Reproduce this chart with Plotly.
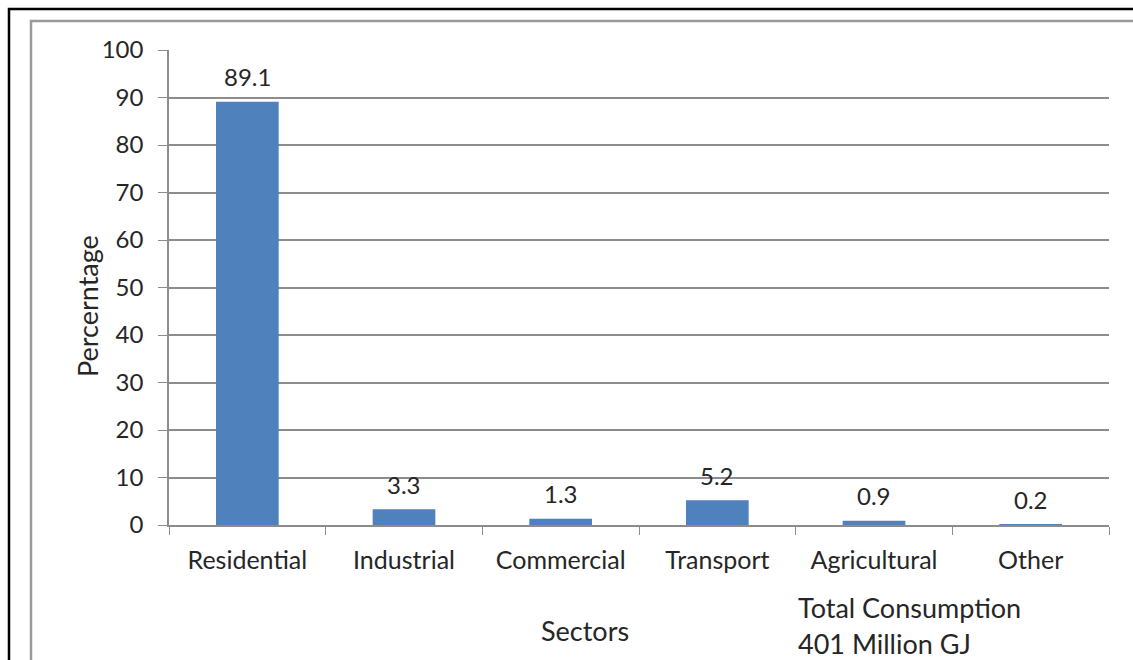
import plotly.graph_objects as go

# Share of total energy consumption by sector (%)
sectors = ["Residential", "Industrial", "Commercial", "Transport", "Agricultural", "Other"]
shares = [89.1, 3.3, 1.3, 5.2, 0.9, 0.2]
y_ticks = [0, 10, 20, 30, 40, 50, 60, 70, 80, 90, 100]

FONT = "Lato"
TEXT = "#262626"
GRID = "#8c8c8c"

W, H = 1133, 660
L, R, T, B = 169, 24, 50, 135
pw, ph = W - L - R, H - T - B


def px(x):
    return (x - L) / pw


def py(y):
    return (H - B - y) / ph


fig = go.Figure(
    go.Bar(
        x=sectors,
        y=shares,
        marker=dict(color="#4f81bd", line=dict(width=0)),
        width=0.4,
    )
)

# value labels floating above each bar
value_labels = [
    dict(x=s, y=v, xref="x", yref="y", text=f"{v:.1f}", showarrow=False,
         xanchor="center", yanchor="middle", yshift=25,
         font=dict(family=FONT, size=24, color=TEXT))
    for s, v in zip(sectors, shares)
]

fig.update_layout(
    width=W,
    height=H,
    margin=dict(l=L, r=R, t=T, b=B),
    paper_bgcolor="white",
    plot_bgcolor="white",
    showlegend=False,
    font=dict(family=FONT, color=TEXT),
    xaxis=dict(
        showline=True,
        linecolor=GRID,
        linewidth=1.5,
        ticks="outside",
        tickson="boundaries",
        ticklen=8,
        tickcolor=GRID,
        tickfont=dict(family=FONT, size=25, color=TEXT),
        ticklabelstandoff=12,
        showgrid=False,
    ),
    yaxis=dict(
        range=[0, 100],
        tickvals=y_ticks,
        showline=True,
        linecolor=GRID,
        linewidth=1.5,
        ticks="outside",
        ticklen=9,
        tickcolor=GRID,
        tickfont=dict(family=FONT, size=24, color=TEXT),
        ticklabelstandoff=10,
        showgrid=True,
        gridcolor=GRID,
        gridwidth=1.5,
        zeroline=False,
    ),
    shapes=[
        # outer black frame
        dict(type="rect", xref="paper", yref="paper",
             x0=px(9), x1=px(1160), y0=py(700), y1=py(9),
             line=dict(color="black", width=2.5), layer="below"),
        # inner gray frame
        dict(type="rect", xref="paper", yref="paper",
             x0=px(31), x1=px(1150), y0=py(700), y1=py(21),
             line=dict(color="#9a9a9a", width=2.5), layer="below"),
    ],
    annotations=value_labels + [
        dict(text="Percerntage", xref="paper", yref="paper",
             x=px(87), y=py(306), textangle=-90, showarrow=False,
             xanchor="center", yanchor="middle",
             font=dict(family=FONT, size=27, color=TEXT)),
        dict(text="Sectors", xref="paper", yref="paper",
             x=px(585), y=py(630), showarrow=False,
             xanchor="center", yanchor="middle",
             font=dict(family=FONT, size=27, color=TEXT)),
        dict(text="Total Consumption", xref="paper", yref="paper",
             x=px(796), y=py(607), showarrow=False,
             xanchor="left", yanchor="middle",
             font=dict(family=FONT, size=27, color=TEXT)),
        dict(text="401 Million GJ", xref="paper", yref="paper",
             x=px(796), y=py(643), showarrow=False,
             xanchor="left", yanchor="middle",
             font=dict(family=FONT, size=27, color=TEXT)),
    ],
)

fig.write_html("out.html")
